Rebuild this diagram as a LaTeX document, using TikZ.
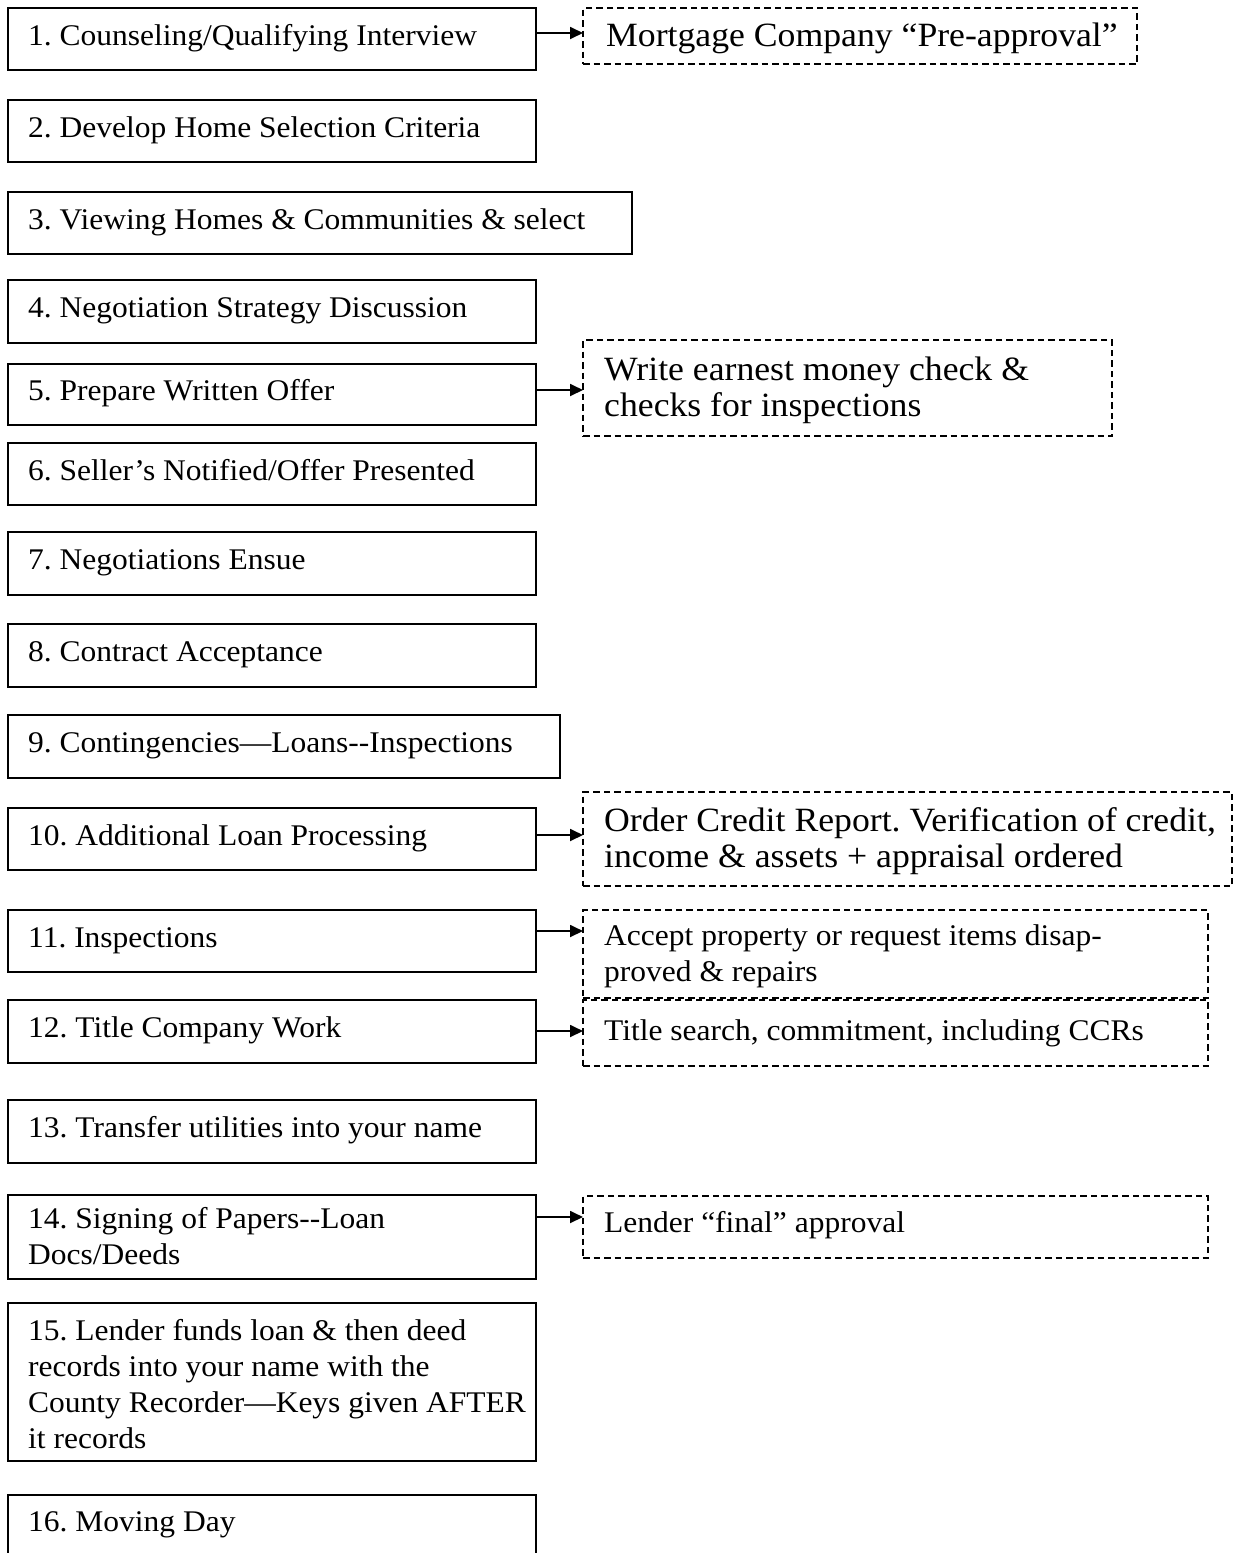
\documentclass[tikz,border=0pt]{standalone}
\usepackage{fontspec}
\setmainfont[FakeStretch=1.05]{Liberation Serif}
\usetikzlibrary{arrows.meta,calc}
\begin{document}
\frenchspacing
\begin{tikzpicture}[x=1pt,y=1pt,
  stepbox/.style={draw=black,line width=1.8pt,rectangle,inner sep=0pt,outer sep=0pt,anchor=north west},
  notebox/.style={draw=black,line width=1.5pt,dash pattern=on 6.5pt off 4pt,rectangle,inner sep=0pt,outer sep=0pt,anchor=north west},
  steptxt/.style={anchor=base west,inner sep=0pt,align=left,font=\fontsize{30}{36}\selectfont},
  bigtxt/.style={anchor=base west,inner sep=0pt,align=left,font=\fontsize{34}{36}\selectfont},
  arr/.style={line width=1.8pt,-{Triangle[length=13pt,width=12pt]}}]
\clip (0,0) rectangle (1238,-1553);
\fill[white] (0,0) rectangle (1238,-1553);
% step boxes: (x,y) top-left, width, height
\newcommand{\stepb}[5]{\node[stepbox,minimum width=#4,minimum height=#5] (#1) at (#2,-#3) {};}
\stepb{b1}{8}{8}{528}{62}
\stepb{b2}{8}{100}{528}{62}
\stepb{b3}{8}{192}{624}{62}
\stepb{b4}{8}{280}{528}{63}
\stepb{b5}{8}{364}{528}{61}
\stepb{b6}{8}{443}{528}{62}
\stepb{b7}{8}{532}{528}{63}
\stepb{b8}{8}{624}{528}{63}
\stepb{b9}{8}{715}{552}{63}
\stepb{b10}{8}{808}{528}{62}
\stepb{b11}{8}{910}{528}{62}
\stepb{b12}{8}{1000}{528}{63}
\stepb{b13}{8}{1100}{528}{63}
\stepb{b14}{8}{1195}{528}{84}
\stepb{b15}{8}{1303}{528}{158}
\stepb{b16}{8}{1495}{528}{90}
% step texts (base = last line's baseline)
\node[steptxt] (t1) at ($(b1.north west)+(20,-37)$) {1. Counseling/Qualifying Interview};
\node[steptxt] (t2) at ($(b2.north west)+(20,-37)$) {2. Develop Home Selection Criteria};
\node[steptxt] (t3) at ($(b3.north west)+(20,-37)$) {3. Viewing Homes \& Communities \& select};
\node[steptxt] (t4) at ($(b4.north west)+(20,-37)$) {4. Negotiation Strategy Discussion};
\node[steptxt] (t5) at ($(b5.north west)+(20,-36)$) {5. Prepare Written Offer};
\node[steptxt] (t6) at ($(b6.north west)+(20,-37)$) {6. Seller’s Notified/Offer Presented};
\node[steptxt] (t7) at ($(b7.north west)+(20,-37)$) {7. Negotiations Ensue};
\node[steptxt] (t8) at ($(b8.north west)+(20,-37)$) {8. Contract Acceptance};
\node[steptxt] (t9) at ($(b9.north west)+(20,-37)$) {9. Contingencies—Loans-{}-Inspections};
\node[steptxt] (t10) at ($(b10.north west)+(20,-37)$) {10. Additional Loan Processing};
\node[steptxt] (t11) at ($(b11.north west)+(20,-37)$) {11. Inspections};
\node[steptxt] (t12) at ($(b12.north west)+(20,-37)$) {12. Title Company Work};
\node[steptxt] (t13) at ($(b13.north west)+(20,-37)$) {13. Transfer utilities into your name};
\node[steptxt] (t14) at ($(b14.north west)+(20,-69)$) {14. Signing of Papers-{}-Loan\\Docs/Deeds};
\node[steptxt] (t15) at ($(b15.north west)+(20,-145)$) {15. Lender funds loan \& then deed\\records into your name with the\\County Recorder—Keys given AFTER\\it records};
\node[steptxt] (t16) at ($(b16.north west)+(20,-36)$) {16. Moving Day};
% note boxes
\node[notebox,minimum width=554,minimum height=56] (d1) at (583,-8) {};
\node[notebox,minimum width=529,minimum height=96] (d5) at (583,-340) {};
\node[notebox,minimum width=649,minimum height=94] (d10) at (583,-792) {};
\node[notebox,minimum width=625,minimum height=88] (d11) at (583,-910) {};
\node[notebox,minimum width=625,minimum height=66] (d12) at (583,-1000) {};
\node[notebox,minimum width=625,minimum height=62] (d14) at (583,-1196) {};
\node[bigtxt] (n1) at ($(d1.north west)+(23,-38)$) {Mortgage Company “Pre-approval”};
\node[bigtxt] (n5) at ($(d5.north west)+(21,-76)$) {Write earnest money check \&\\checks for inspections};
\node[bigtxt] (n10) at ($(d10.north west)+(21,-75)$) {Order Credit Report. Verification of credit,\\income \& assets + appraisal ordered};
\node[steptxt] (n11) at ($(d11.north west)+(21,-71)$) {Accept property or request items disap-\\proved \& repairs};
\node[steptxt] (n12) at ($(d12.north west)+(21,-40)$) {Title search, commitment, including CCRs};
\node[steptxt] (n14) at ($(d14.north west)+(21,-36)$) {Lender “final” approval};
% arrows
\draw[arr] (b1.east |- 0,-33) -- (d1.west |- 0,-33);
\draw[arr] (b5.east |- 0,-390) -- (d5.west |- 0,-390);
\draw[arr] (b10.east |- 0,-835) -- (d10.west |- 0,-835);
\draw[arr] (b11.east |- 0,-931) -- (d11.west |- 0,-931);
\draw[arr] (b12.east |- 0,-1031) -- (d12.west |- 0,-1031);
\draw[arr] (b14.east |- 0,-1217) -- (d14.west |- 0,-1217);
\end{tikzpicture}
\end{document}
